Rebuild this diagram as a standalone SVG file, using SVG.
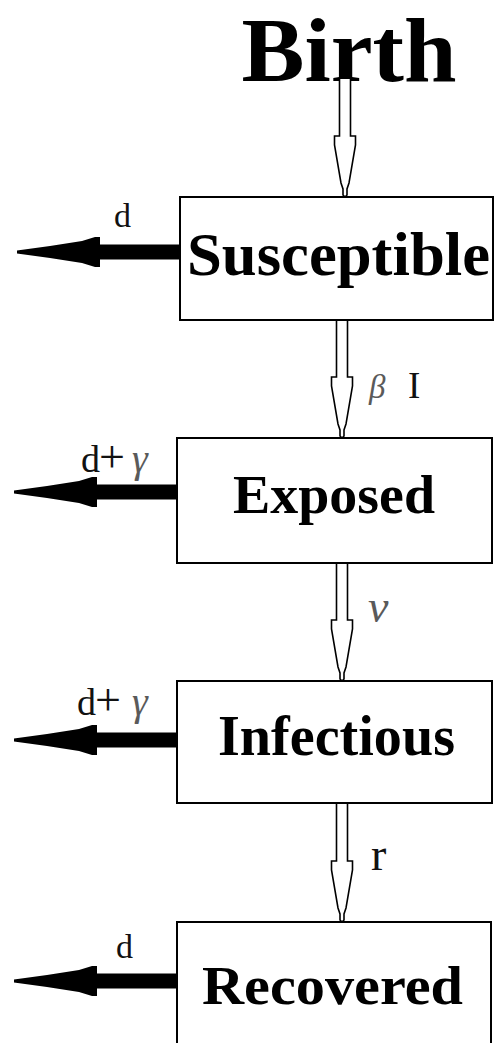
<svg xmlns="http://www.w3.org/2000/svg" width="495" height="1043" viewBox="0 0 495 1043">
<style>
.box{fill:#fff;stroke:#000;stroke-width:2}
.name{font-family:"Liberation Serif",serif;font-weight:bold;fill:#000;text-anchor:middle}
.lbl{font-family:"Liberation Serif",serif;fill:#111}
.greek{font-family:"Liberation Serif",serif;font-style:italic;fill:#5a5a5a}
.hollow{fill:#fff;stroke:#000;stroke-width:1.6;stroke-linejoin:miter}
.solid{fill:#000;stroke:none}
</style>
<defs>
<path id="down" d="M-5.5,0 L-5.5,57 L-10.5,57 L-10.5,66 L-4,104 L-2,110 L-2,116 L0,118 L2,116 L2,110 L4,104 L10.5,66 L10.5,57 L5.5,57 L5.5,0"/>
<path id="left" d="M0,-7.5 L-80,-7.5 L-80,-15 L-85,-15 L-98,-11 L-130,-6 L-163,-1.5 L-163,1.5 L-130,6 L-98,11 L-85,15 L-80,15 L-80,7.5 L0,7.5 Z"/>
</defs>
<rect width="495" height="1043" fill="#fff"/>
<g id="birth">
<text class="name" x="349" y="81" font-size="90" textLength="215" lengthAdjust="spacingAndGlyphs">Birth</text>
</g>
<g id="connectors">
<use href="#down" class="hollow" x="345" y="79"/>
<use href="#down" class="hollow" x="342" y="320"/>
<use href="#down" class="hollow" x="342" y="563"/>
<use href="#down" class="hollow" x="342" y="804"/>
<use href="#left" class="solid" x="180" y="252"/>
<use href="#left" class="solid" x="177" y="492"/>
<use href="#left" class="solid" x="177" y="740"/>
<use href="#left" class="solid" x="177" y="981"/>
<text class="lbl" x="114" y="227" font-size="34">d</text>
<text y="472" font-size="38"><tspan class="lbl" x="81">d</tspan><tspan class="lbl" x="99" font-size="46">+</tspan><tspan class="greek" x="132" font-size="40">γ</tspan></text>
<text y="715" font-size="38"><tspan class="lbl" x="77">d</tspan><tspan class="lbl" x="95" font-size="46">+</tspan><tspan class="greek" x="132" font-size="40">γ</tspan></text>
<text class="lbl" x="116" y="958" font-size="34">d</text>
<text y="398" font-size="33"><tspan class="greek" x="369">β</tspan><tspan class="lbl" x="408" font-size="37">I</tspan></text>
<text class="greek" x="368" y="622" font-size="46">ν</text>
<text class="lbl" x="371" y="870" font-size="46">r</text>
</g>
<g id="susceptible">
<rect class="box" x="180" y="197" width="313" height="123"/>
<text class="name" x="338.5" y="275" font-size="61" textLength="303" lengthAdjust="spacingAndGlyphs">Susceptible</text>
</g>
<g id="exposed">
<rect class="box" x="177" y="438" width="315" height="125"/>
<text class="name" x="334" y="513" font-size="55" textLength="202" lengthAdjust="spacingAndGlyphs">Exposed</text>
</g>
<g id="infectious">
<rect class="box" x="177" y="681" width="315" height="122"/>
<text class="name" x="336.5" y="755" font-size="56" textLength="237" lengthAdjust="spacingAndGlyphs">Infectious</text>
</g>
<g id="recovered">
<rect class="box" x="177" y="922" width="314" height="130"/>
<text class="name" x="332.5" y="1004" font-size="55" textLength="261" lengthAdjust="spacingAndGlyphs">Recovered</text>
</g>
</svg>
